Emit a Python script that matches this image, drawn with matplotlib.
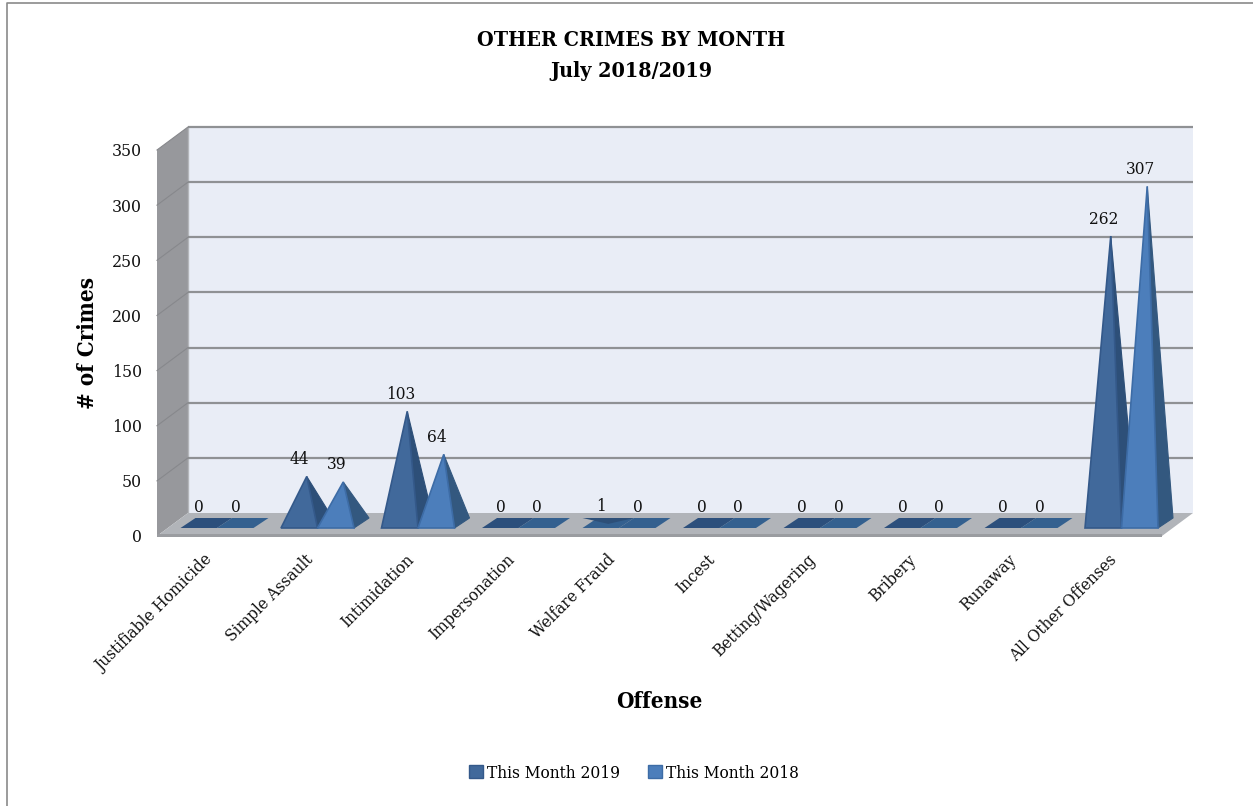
#!/usr/bin/env python3
# Other crimes by month - fake-3D pyramid column chart
import matplotlib
matplotlib.use("Agg")
import matplotlib.pyplot as plt
from matplotlib.patches import Polygon, Rectangle
from matplotlib.lines import Line2D

offenses = ["Justifiable Homicide", "Simple Assault", "Intimidation", "Impersonation",
            "Welfare Fraud", "Incest", "Betting/Wagering", "Bribery", "Runaway",
            "All Other Offenses"]
month_2019 = [0, 44, 103, 0, 1, 0, 0, 0, 0, 262]
month_2018 = [0, 39, 64, 0, 0, 0, 0, 0, 0, 307]
y_ticks = [0, 50, 100, 150, 200, 250, 300, 350]

W, H = 1253, 806
plt.rcParams["font.family"] = "DejaVu Serif"
plt.rcParams["font.stretch"] = "condensed"

# front plane of the plot in pixels
LEFT, RIGHT, BOTTOM, TOP = 157, 1162, 536, 150
PX_X = (RIGHT - LEFT) / 10.0
PX_Y = (BOTTOM - TOP) / 350.0


def dx(px):
    return px / PX_X


def dy(px):
    return px / PX_Y


WALL_X, WALL_Y = dx(31), dy(23)   # depth of the box
BAR_OFF, BAR_W = dx(23.5), dx(36.5)
BAR_DX, BAR_DY = dx(15), dy(10)
BAR_Y0 = dy(8)


def poly(ax, pts, color, edge=None, lw=0, z=2):
    ax.add_patch(Polygon(pts, closed=True, facecolor=color, edgecolor=edge or color,
                         linewidth=lw, zorder=z, clip_on=False))


def draw_box(ax):
    poly(ax, [(0, 0), (WALL_X, WALL_Y), (WALL_X, 350 + WALL_Y), (0, 350)], "#97989c", z=1)
    poly(ax, [(WALL_X, WALL_Y), (10 + WALL_X, WALL_Y), (10 + WALL_X, 350 + WALL_Y), (WALL_X, 350 + WALL_Y)],
         "#e9edf6", z=1)
    for v in y_ticks:
        if v > 0:
            ax.plot([WALL_X, 10 + WALL_X], [v + WALL_Y] * 2, color="#8f9194", lw=1.6, zorder=1.5,
                    clip_on=False, solid_capstyle="butt")
            ax.plot([0, WALL_X], [v, v + WALL_Y], color="#87888c", lw=0.8, zorder=1.5, clip_on=False)
    ax.plot([WALL_X, WALL_X], [WALL_Y, 350 + WALL_Y], color="#b4b6ba", lw=1, zorder=1.4, clip_on=False)
    poly(ax, [(0, 0), (10, 0), (10 + WALL_X, WALL_Y), (WALL_X, WALL_Y)], "#b1b4b9", z=1.6)
    ax.add_patch(Rectangle((0, -dy(1)), 10, dy(3), facecolor="#9a9ca0", zorder=1.7, clip_on=False))


def draw_pyramid(ax, x0, value, front, side, edge, flat, z):
    x1 = x0 + BAR_W
    y0 = BAR_Y0
    apex = (x0 + BAR_W / 2 + BAR_DX / 2, y0 + dy(3) + value)
    if value < 2:
        poly(ax, [(x0, y0), (x1, y0), (x1 + BAR_DX, y0 + BAR_DY), (x0 + BAR_DX, y0 + BAR_DY)], flat, z=z)
        if value > 0:
            poly(ax, [(x0, y0 + BAR_DY), (x1 + BAR_DX, y0 + BAR_DY), apex], side, z=z + 0.1)
    else:
        poly(ax, [(x1, y0), (x1 + BAR_DX, y0 + BAR_DY), apex], side, side, 0.8, z)
        poly(ax, [(x0, y0), (x1, y0), apex], front, edge, 1.2, z + 0.1)
    ax.text(apex[0] - dx(7), apex[1] + dy(17), str(value), ha="center", va="center",
            fontsize=12.3, color="#111111", zorder=6)


def plot():
    fig = plt.figure(figsize=(W / 100, H / 100), dpi=100, facecolor="white")
    fig.add_artist(Line2D([7 / W, 7 / W, 1], [0, 1 - 3 / H, 1 - 3 / H], color="#8a8a8a", lw=1.2))
    ax = fig.add_axes([LEFT / W, 1 - BOTTOM / H, (RIGHT - LEFT) / W, (BOTTOM - TOP) / H])
    ax.set_xlim(0, 10)
    ax.set_ylim(0, 350)
    ax.patch.set_visible(False)
    for s in ax.spines.values():
        s.set_visible(False)

    draw_box(ax)
    for i in range(len(offenses)):
        x0 = i + BAR_OFF
        flat_2019 = "#2c4f7c" if month_2019[i] == 0 else "#34608f"
        draw_pyramid(ax, x0, month_2019[i], "#41699b", "#2d4f78", "#34598a", flat_2019, 3)
        draw_pyramid(ax, x0 + BAR_W, month_2018[i], "#4c7ebb", "#33587f", "#3d6ca6", "#34608f", 4)

    ax.set_yticks(y_ticks)
    ax.tick_params(axis="y", length=0, labelsize=12.6, pad=11, labelcolor="#111111")
    ax.set_xticks([i + 0.47 for i in range(len(offenses))])
    ax.set_xticklabels(offenses, rotation=45, ha="right", rotation_mode="anchor", fontsize=12.3, color="#111111")
    ax.tick_params(axis="x", length=0, pad=11)

    fig.text(631 / W, 1 - 40 / H, "OTHER CRIMES BY MONTH", ha="center", va="center",
             fontsize=15.4, fontweight="bold")
    fig.text(631 / W, 1 - 71 / H, "July 2018/2019", ha="center", va="center",
             fontsize=15.4, fontweight="bold")
    fig.text(88 / W, 1 - 343 / H, "# of Crimes", rotation=90, ha="center", va="center",
             fontsize=16, fontweight="bold")
    fig.text(659 / W, 1 - 702 / H, "Offense", ha="center", va="center",
             fontsize=16, fontweight="bold")

    handles = [Rectangle((0, 0), 1, 1, facecolor="#41699b", edgecolor="#34598a"),
               Rectangle((0, 0), 1, 1, facecolor="#4c7ebb", edgecolor="#3d6ca6")]
    fig.legend(handles, ["This Month 2019", "This Month 2018"], ncol=2, frameon=False,
               loc="center", bbox_to_anchor=(634 / W, 1 - 773 / H), fontsize=12.4,
               handlelength=0.8, handleheight=0.8, handletextpad=0.25, columnspacing=1.6)
    fig.savefig("out.png", dpi=100)


def main():
    plot()


if __name__ == "__main__":
    main()
